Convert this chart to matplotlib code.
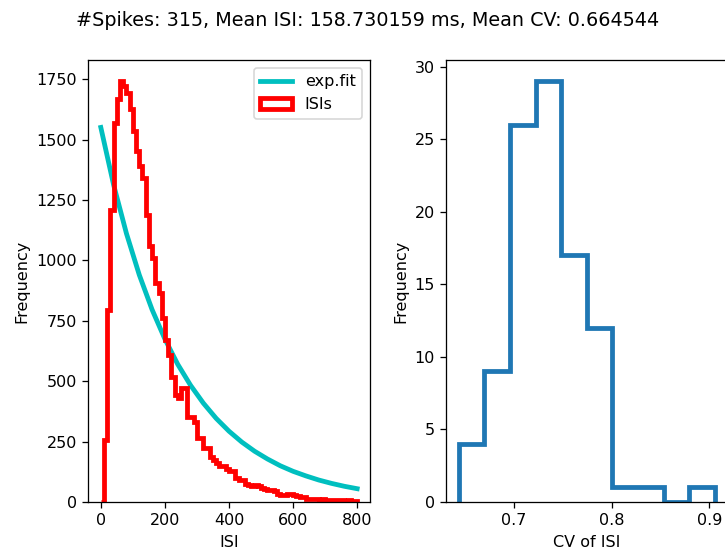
import numpy as np
import matplotlib
matplotlib.use("Agg")
import matplotlib.pyplot as plt

# ISI histogram, 10 ms bins from 0 to 800
isi_edges = np.arange(0, 810, 10)
isi_counts = [0, 257, 796, 1210, 1569, 1666, 1742, 1721, 1694, 1625,
              1535, 1452, 1390, 1341, 1189, 1058, 1010, 906, 865, 761,
              671, 609, 519, 443, 430, 472, 470, 353, 353, 330,
              264, 264, 222, 222, 188, 174, 160, 150, 150, 135,
              130, 128, 100, 92, 90, 75, 70, 68, 72, 66,
              60, 52, 50, 48, 45, 32, 29, 28, 33, 34,
              30, 24, 22, 20, 14, 12, 11, 12, 10, 11,
              10, 9, 8, 8, 7, 8, 6, 7, 6, 5]

fit_x = [0, 40, 80, 120, 160, 200, 240, 280, 320, 360, 400,
         440, 480, 520, 560, 600, 640, 680, 720, 760, 800]
fit_y = [1550, 1312, 1111, 940, 796, 674, 570, 483, 409, 346, 293,
         248, 210, 178, 150, 127, 108, 91, 77, 65, 55]

# CV histogram
cv_edges = [0.6436, 0.6698, 0.6960, 0.7222, 0.7484, 0.7746,
            0.8008, 0.8270, 0.8532, 0.8794, 0.9059]
cv_counts = [4, 9, 26, 29, 17, 12, 1, 1, 0, 1]

title = "#Spikes: 315, Mean ISI: 158.730159 ms, Mean CV: 0.664544"

fig = plt.figure(figsize=(725 / 115, 552 / 115), dpi=115)
ax1 = fig.add_axes([88 / 725, 50 / 552, 282 / 725, 442 / 552])
ax2 = fig.add_axes([446 / 725, 50 / 552, 282 / 725, 442 / 552])

ax1.plot(fit_x, fit_y, color='c', lw=3, label='exp.fit')
ax1.hist(isi_edges[:-1], bins=isi_edges, weights=isi_counts,
         histtype='step', color='r', lw=3, label='ISIs')
ax1.set_xlabel('ISI')
ax1.set_ylabel('Frequency')
ax1.set_xticks([0, 200, 400, 600, 800])
ax1.legend(loc='upper right')

cv_centers = [(a + b) / 2 for a, b in zip(cv_edges[:-1], cv_edges[1:])]
ax2.hist(cv_centers, bins=cv_edges, weights=cv_counts,
         histtype='step', color='C0', lw=3)
ax2.set_xlabel('CV of ISI')
ax2.set_ylabel('Frequency')
ax2.set_xticks([0.7, 0.8, 0.9])

fig.suptitle(title, x=368 / 725)
fig.savefig('out.png', dpi=115)
